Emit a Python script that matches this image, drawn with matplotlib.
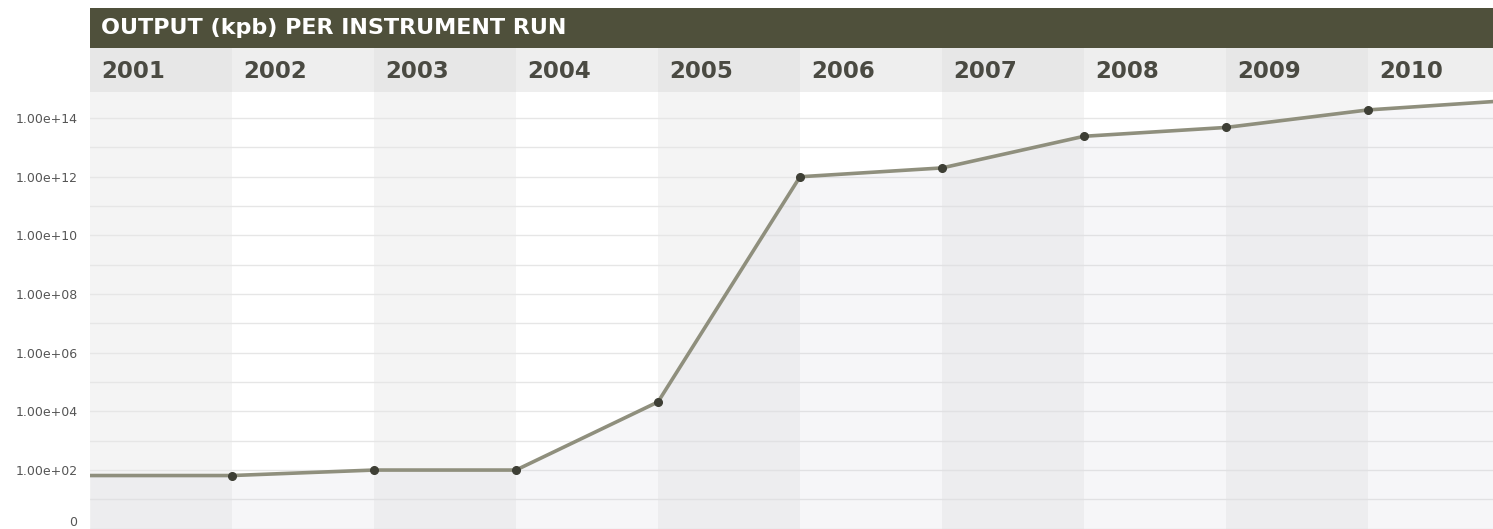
import matplotlib
matplotlib.use('Agg')
import matplotlib.pyplot as plt

# datos (kpb por corrida)
anios = [2001, 2002, 2003, 2004, 2005, 2006, 2007, 2008, 2009, 2010, 2011]
salida_kpb = [65, 65, 100, 100, 2.1e4, 1.0e12, 2.0e12, 2.4e13, 4.8e13, 1.9e14, 4.0e14]
anios_cabecera = [2001, 2002, 2003, 2004, 2005, 2006, 2007, 2008, 2009, 2010]
ticks_y = [1e0, 1e2, 1e4, 1e6, 1e8, 1e10, 1e12, 1e14]
etiquetas_y = ['0', '1.00e+02', '1.00e+04', '1.00e+06', '1.00e+08',
               '1.00e+10', '1.00e+12', '1.00e+14']
titulo = 'OUTPUT (kpb) PER INSTRUMENT RUN'

W, H = 1493, 529


def rect(x0, y0, x1, y1):
    # convierte pixeles (origen arriba-izquierda) a coordenadas de figura
    return [x0 / W, 1 - y1 / H, (x1 - x0) / W, (y1 - y0) / H]


fig = plt.figure(figsize=(W / 100, H / 100), dpi=100)
fig.patch.set_facecolor('white')

col_ancho = 142.0
x_fin = anios[0] + (1493 - 90) / col_ancho

# --- grafico principal ---
ax = fig.add_axes(rect(90, 92, 1493, 529))
ax.set_facecolor('white')
for i, a in enumerate(anios_cabecera):
    if i % 2 == 0:
        ax.axvspan(a, a + 1, color='#f4f4f4', lw=0, zorder=0)

ax.set_yscale('log')
ax.set_xlim(anios[0], x_fin)
ax.set_ylim(10 ** -0.01, 10 ** 14.89)

ax.set_yticks(ticks_y)
ax.set_yticklabels(etiquetas_y)
ax.set_yticks([10.0 ** k for k in range(1, 15, 2)], minor=True)
ax.yaxis.set_minor_formatter(matplotlib.ticker.NullFormatter())
ax.grid(True, which='both', axis='y', color='#e6e6e6', lw=1, zorder=1)
ax.set_axisbelow(True)
ax.tick_params(axis='y', which='both', length=0, pad=9, labelsize=9,
               labelcolor='#555555')
# la etiqueta "0" queda en el borde inferior: subirla un poco
ax.get_yticklabels()[0].set_verticalalignment('bottom')
ax.set_xticks([])
for s in ax.spines.values():
    s.set_visible(False)

ax.fill_between(anios, salida_kpb, 1e-1, color='#cdcdd8', alpha=0.17,
                lw=0, zorder=2)
ax.plot(anios, salida_kpb, color='#8f8f7d', lw=2.6, zorder=3,
        solid_capstyle='butt')
ax.plot(anios[1:], salida_kpb[1:], 'o', color='#3e3f35', ms=5.5, zorder=4)

# --- fila de anios ---
hdr = fig.add_axes(rect(90, 48, 1493, 92))
hdr.set_facecolor('#eeeeee')
hdr.set_xlim(anios[0], x_fin)
hdr.set_ylim(0, 1)
for i, a in enumerate(anios_cabecera):
    if i % 2 == 0:
        hdr.axvspan(a, a + 1, color='#e7e7e7', lw=0)
    hdr.text(a + 11 / col_ancho, 0.47, str(a), va='center', ha='left',
             fontsize=16.5, fontweight='bold', color='#4a4a42')
hdr.set_xticks([])
hdr.set_yticks([])
for s in hdr.spines.values():
    s.set_visible(False)

# --- barra de titulo ---
ttl = fig.add_axes(rect(90, 8, 1493, 48))
ttl.set_facecolor('#4f503b')
ttl.set_xlim(0, 1)
ttl.set_ylim(0, 1)
ttl.text(11 / 1403, 0.5, titulo, va='center', ha='left', fontsize=16,
         fontweight='bold', color='white')
ttl.set_xticks([])
ttl.set_yticks([])
for s in ttl.spines.values():
    s.set_visible(False)

plt.savefig('out.png', dpi=100)
